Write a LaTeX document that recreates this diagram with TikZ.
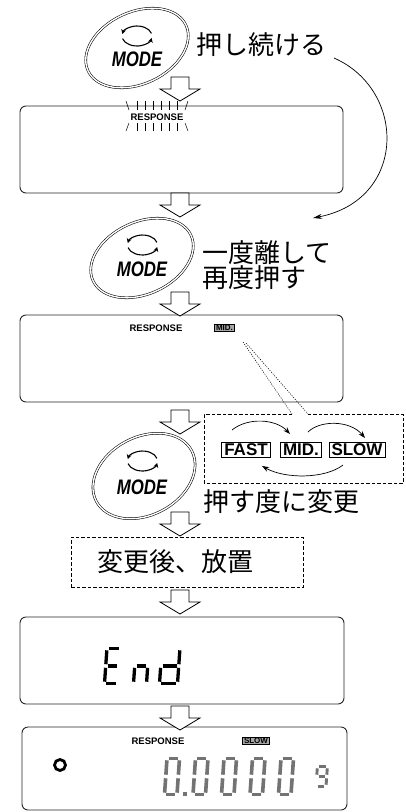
\documentclass[tikz,border=0pt]{standalone}
\usepackage{fontspec}
\newfontfamily\jpfont{Noto Sans CJK JP}
\newfontfamily\arialfont{Liberation Sans}
\usetikzlibrary{shapes.geometric,arrows.meta,calc}

\def\sgG{1.8}
\def\sgT{3.3}
\def\segDa{\draw[segline] (\sgG,\sgH) -- ({\sgW-\sgG},\sgH);}
\def\segDb{\draw[segline] (\sgW,{\sgH-\sgG}) -- (\sgW,{\sgH/2+\sgG});}
\def\segDc{\draw[segline] (\sgW,{\sgH/2-\sgG}) -- (\sgW,\sgG);}
\def\segDd{\draw[segline] (\sgG,0) -- ({\sgW-\sgG},0);}
\def\segDe{\draw[segline] (0,\sgG) -- (0,{\sgH/2-\sgG});}
\def\segDf{\draw[segline] (0,{\sgH/2+\sgG}) -- (0,{\sgH-\sgG});}
\def\segDg{\draw[segline] (\sgG,{\sgH/2}) -- ({\sgW-\sgG},{\sgH/2});}
\newcommand\segdigit[6]{%
  \begin{scope}[shift={(#1,#2)}, xslant=0.07, draw=#6]
    \def\sgW{#3}\def\sgH{#4}%
    \foreach \s in {#5}{\csname segD\s\endcsname}
  \end{scope}}
\newcommand\modeicon[1]{%
  \draw[iconarc] ($(#1)+(15:15pt and 10pt)$) arc[start angle=15,end angle=168,x radius=15pt,y radius=10pt];
  \draw[iconarc] ($(#1)+(195:15pt and 10pt)$) arc[start angle=195,end angle=348,x radius=15pt,y radius=10pt];}

\tikzset{
  display/.style={draw=black!85, line width=0.9pt, rounded corners=6pt, inner sep=0pt},
  blockarrow/.pic={\draw[line width=0.8pt, fill=white, line join=miter]
     (-9,0) -- (-9,-12) -- (-20,-12) -- (0,-24) -- (20,-12) -- (9,-12) -- (9,0) -- cycle;},
  modebtn/.style={draw, double, double distance=1.4pt, line width=0.55pt, ellipse,
     minimum width=108pt, minimum height=72pt, inner sep=0pt},
  modetxt/.style={font=\arialfont\bfseries\itshape\fontsize{21}{21}\selectfont, xscale=0.8, inner sep=0pt},
  iconarc/.style={line width=1.1pt, -{Stealth[length=4.5pt,width=5pt]}},
  jptxt/.style={font=\jpfont\fontsize{26}{25}\selectfont, inner sep=0pt},
  resp/.style={font=\arialfont\bfseries\fontsize{9.5}{9.5}\selectfont, inner sep=0pt},
  smalltag/.style={font=\arialfont\bfseries\fontsize{8}{8}\selectfont, draw=black, fill=black!35,
     line width=0.5pt, inner xsep=1.5pt, inner ysep=0.8pt},
  speedtag/.style={font=\arialfont\bfseries\fontsize{17}{17}\selectfont, draw=black, line width=0.7pt,
     fill=white, inner xsep=2.5pt, inner ysep=1.5pt},
  dashbox/.style={line width=1pt, dash pattern=on 3.5pt off 2pt},
  callout/.style={line width=0.6pt, dash pattern=on 1pt off 1.4pt},
  curvearrow/.style={line width=0.7pt, -{Stealth[length=9pt,width=5pt]}},
  smallarrow/.style={line width=0.7pt, -{Stealth[length=7pt,width=5pt]}},
  segline/.style={line width=\sgT pt, line cap=butt},
  tick/.style={line width=0.5pt},
}

\begin{document}
\begin{tikzpicture}[x=1pt,y=1pt]
\useasboundingbox (0,0) rectangle (406,-812);
\fill[white] (0,0) rectangle (406,-812);

% ---------- displays
\node[display, minimum width=323pt, minimum height=87pt] (disp1) at (181.5,-149.5) {};
\node[display, minimum width=323pt, minimum height=87pt] (disp2) at (181.5,-358.5) {};
\node[display, minimum width=324pt, minimum height=87pt] (disp3) at (182,-660.5) {};
\node[display, minimum width=325pt, minimum height=83pt] (disp4) at (184.5,-768.5) {};

% ---------- MODE buttons
\node[modebtn, rotate=25] (mode1) at (137,-48) {};
\modeicon{137,-36}
\node[modetxt] (mode1t) at (137,-59) {MODE};

\node[modebtn, rotate=25] (mode2) at (142,-258) {};
\modeicon{142.5,-245}
\node[modetxt] (mode2t) at (142,-269) {MODE};

\node[modebtn, rotate=28, minimum height=78pt] (mode3) at (144,-476) {};
\modeicon{142.5,-461}
\node[modetxt] (mode3t) at (142,-487) {MODE};

% ---------- block arrows
\pic at (180,-77) {blockarrow};
\pic at (180,-193) {blockarrow};
\pic at (180,-292) {blockarrow};
\pic at (180,-410) {blockarrow};
\pic at (180,-512) {blockarrow};
\pic at (180,-590) {blockarrow};
\pic at (180,-706) {blockarrow};

% ---------- Japanese texts
\node[jptxt, anchor=west] (t1) at (196,-45) {押し続ける};
\node[jptxt, anchor=west, align=left] (t2) at (202,-265) {一度離して\\再度押す};
\node[jptxt, anchor=west] (t3) at (203,-502) {押す度に変更};

% ---------- long curved arrow
\coordinate (cstart) at (334,-58);
\coordinate (cend) at (313,-218);
\draw[curvearrow] (cstart) .. controls (407,-90) and (407,-200) .. (cend);

% ---------- display 1: blinking RESPONSE
\node[resp] (resp1) at (157,-117.5) {RESPONSE};
\draw[tick] (126,-101) -- (129,-110);
\foreach \xx in {137,145,153,161,169,177} {\draw[tick] (\xx,-101) -- (\xx,-110);}
\draw[tick] (188,-101) -- (185,-110);
\draw[tick] (129,-123) -- (126,-131);
\foreach \xx in {137,145,153,161,169,177} {\draw[tick] (\xx,-123) -- (\xx,-131);}
\draw[tick] (185,-123) -- (188,-131);

% ---------- display 2
\node[resp] (resp2) at (156,-328) {RESPONSE};
\node[smalltag] (midtag) at (224.5,-328) {MID.};

% ---------- speed selection box (callout)
\coordinate (gapL) at (292,-414);
\coordinate (gapR) at (308,-414);
\coordinate (callA) at (243,-342);
\coordinate (callB) at (246,-343);
\draw[dashbox] (gapL) -- (204,-414) -- (204,-483) -- (403,-483) -- (403,-414) -- (gapR);
\draw[callout] (callA) -- (gapL);
\draw[callout] (callB) -- (gapR);

\node[speedtag] (fast) at (246,-450) {FAST};
\node[speedtag] (mid) at (301,-450) {MID.};
\node[speedtag] (slow) at (357,-450) {SLOW};
\coordinate (a1s) at (232,-430);
\coordinate (a1e) at (290,-434);
\coordinate (a2s) at (308,-432);
\coordinate (a2e) at (365,-438);
\coordinate (a3s) at (343,-465);
\coordinate (a3e) at (262,-466);
\draw[smallarrow] (a1s) .. controls (248,-417) and (276,-419) .. (a1e);
\draw[smallarrow] (a2s) .. controls (320,-420) and (350,-420) .. (a2e);
\draw[smallarrow] (a3s) .. controls (325,-479) and (285,-479) .. (a3e);

% ---------- after change box
\node[draw, dashbox, minimum width=232pt, minimum height=50pt, inner sep=0pt] (leavebox) at (187,-562) {};
\node[jptxt] (t4) at (175,-562) {変更後、放置};

% ---------- display 3: End
\def\sgT{3.3}
\segdigit{104.5}{-683.5}{13.5}{35}{a,d,e,f,g}{black}
\segdigit{133.5}{-683.5}{13}{35}{c,e,g}{black}
\segdigit{159.5}{-683.5}{18}{35}{b,c,d,e,g}{black}

% ---------- display 4
\node[resp] (resp4) at (158,-741) {RESPONSE};
\node[smalltag] (slowtag) at (256,-741) {SLOW};
\node[circle, draw, line width=2.8pt, minimum size=11pt, inner sep=0pt] (ring) at (60,-765) {};
\def\sgT{3.6}
\segdigit{164.5}{-794.5}{12.5}{36}{a,b,c,d,e,f}{black!55}
\segdigit{193}{-794.5}{12.5}{36}{a,b,c,d,e,f}{black!55}
\segdigit{221.5}{-794.5}{12.5}{36}{a,b,c,d,e,f}{black!55}
\segdigit{250}{-794.5}{12.5}{36}{a,b,c,d,e,f}{black!55}
\segdigit{278.5}{-794.5}{12.5}{36}{a,b,c,d,e,f}{black!55}
\fill[black!55] (182.5,-796.3) rectangle (186.5,-792.3);
\def\sgT{2.9}
\segdigit{316}{-786.5}{10}{20}{a,b,c,d,f,g}{black!55}
\end{tikzpicture}
\end{document}
